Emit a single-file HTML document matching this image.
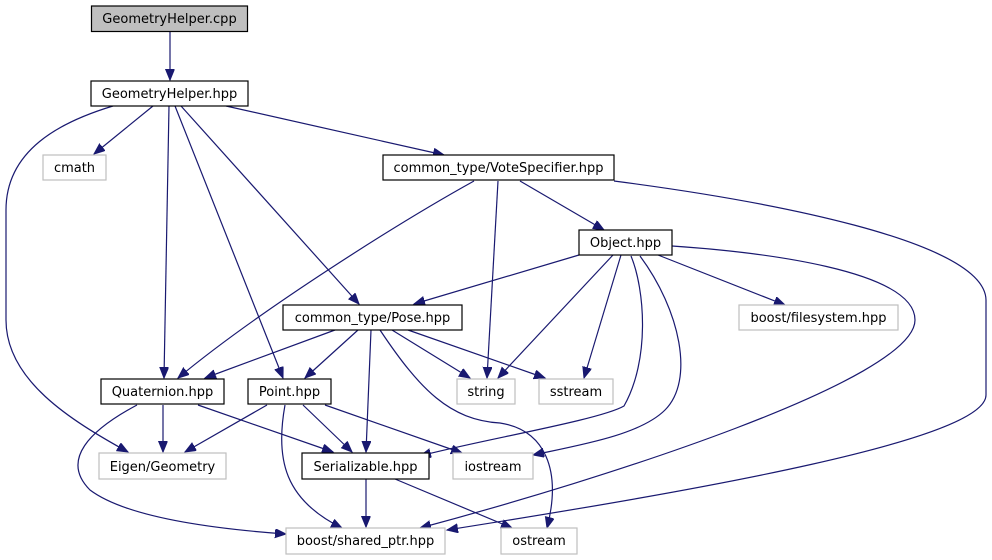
<!DOCTYPE html>
<html><head><meta charset="utf-8"><style>
html,body{margin:0;padding:0;background:#fff;}
svg{display:block;}
text{font-family:"DejaVu Sans","Liberation Sans",sans-serif;font-size:13px;fill:#000;text-anchor:middle;}
.n{fill:#fff;stroke:#000;stroke-width:1.2;}
.g{fill:#fff;stroke:#bfbfbf;stroke-width:1.2;}
.e{fill:none;stroke:#191970;stroke-width:1.2;marker-end:url(#a);}
</style></head><body>
<svg width="992" height="560" viewBox="0 0 992 560" xmlns="http://www.w3.org/2000/svg">
<defs><marker id="a" markerUnits="userSpaceOnUse" markerWidth="13" markerHeight="10" refX="11" refY="4.5" orient="auto"><path d="M0,0 L11,4.5 L0,9 z" fill="#191970" stroke="#191970"/></marker></defs>
<path class="e" d="M170,32 L170,80"/>
<path class="e" d="M153,106 L94,154"/>
<path class="e" d="M113,106 C60,122 6,150 6,210 L6,320 C6,380 70,420 128,452"/>
<path class="e" d="M169,106 L164,378"/>
<path class="e" d="M175,106 L283,378"/>
<path class="e" d="M181,106 L359,304"/>
<path class="e" d="M226,106 L444,155"/>
<path class="e" d="M474,181 C400,222 260,310 178,378"/>
<path class="e" d="M498,181 L487,378"/>
<path class="e" d="M520,181 L604,230"/>
<path class="e" d="M614,181 C760,200 985,240 986,300 L986,395 C986,440 700,490 447,530"/>
<path class="e" d="M672,246 C760,252 915,270 915,320 C915,380 600,480 420,528"/>
<path class="e" d="M579,255 L414,304"/>
<path class="e" d="M613,255 L498,378"/>
<path class="e" d="M621,255 L584,378"/>
<path class="e" d="M631,256 C645,290 650,360 624,406 C600,420 480,440 420,456"/>
<path class="e" d="M640,256 C680,310 695,380 665,410 C640,435 580,445 533,455"/>
<path class="e" d="M658,255 L785,305"/>
<path class="e" d="M335,330 L205,378"/>
<path class="e" d="M358,330 L305,378"/>
<path class="e" d="M371,330 L366,452"/>
<path class="e" d="M392,330 L470,378"/>
<path class="e" d="M408,330 L545,378"/>
<path class="e" d="M380,330 C420,390 450,420 500,423 C545,430 562,470 547,528"/>
<path class="e" d="M163,405 L163,452"/>
<path class="e" d="M198,405 L333,452"/>
<path class="e" d="M137,405 C90,430 60,460 90,490 C130,520 230,530 286,534"/>
<path class="e" d="M267,405 L185,452"/>
<path class="e" d="M303,405 L352,452"/>
<path class="e" d="M325,405 L462,453"/>
<path class="e" d="M285,405 C275,460 285,500 342,528"/>
<path class="e" d="M366,479 L366,527"/>
<path class="e" d="M395,479 L512,528"/>
<rect x="91.5" y="6" width="156" height="25.5" fill="#bfbfbf" stroke="#000" stroke-width="1.2"/><text x="169.5" y="23">GeometryHelper.cpp</text>
<rect class="n" x="91" y="81" width="157" height="25"/><text x="169.5" y="98">GeometryHelper.hpp</text>
<rect class="g" x="43" y="155" width="63" height="25"/><text x="74.5" y="172">cmath</text>
<rect class="n" x="383" y="155" width="231" height="25"/><text x="498.5" y="172">common_type/VoteSpecifier.hpp</text>
<rect class="n" x="579" y="230" width="93" height="25"/><text x="625.5" y="247">Object.hpp</text>
<rect class="g" x="739" y="305" width="159" height="25"/><text x="818.5" y="322">boost/filesystem.hpp</text>
<rect class="n" x="283" y="305" width="179" height="25"/><text x="372.5" y="322">common_type/Pose.hpp</text>
<rect class="n" x="101" y="379" width="123" height="25"/><text x="162.5" y="396">Quaternion.hpp</text>
<rect class="n" x="248" y="379" width="83" height="25"/><text x="289.5" y="396">Point.hpp</text>
<rect class="g" x="457" y="379" width="58" height="25"/><text x="486" y="396">string</text>
<rect class="g" x="539" y="379" width="74" height="25"/><text x="576" y="396">sstream</text>
<rect class="g" x="99" y="453" width="127" height="26"/><text x="162.5" y="471">Eigen/Geometry</text>
<rect class="n" x="302" y="453" width="127" height="26"/><text x="365.5" y="471">Serializable.hpp</text>
<rect class="g" x="453" y="453" width="80" height="26"/><text x="493" y="471">iostream</text>
<rect class="g" x="286" y="528" width="159" height="26"/><text x="365.5" y="545">boost/shared_ptr.hpp</text>
<rect class="g" x="501" y="528" width="76" height="26"/><text x="539" y="545">ostream</text>
</svg>
</body></html>
